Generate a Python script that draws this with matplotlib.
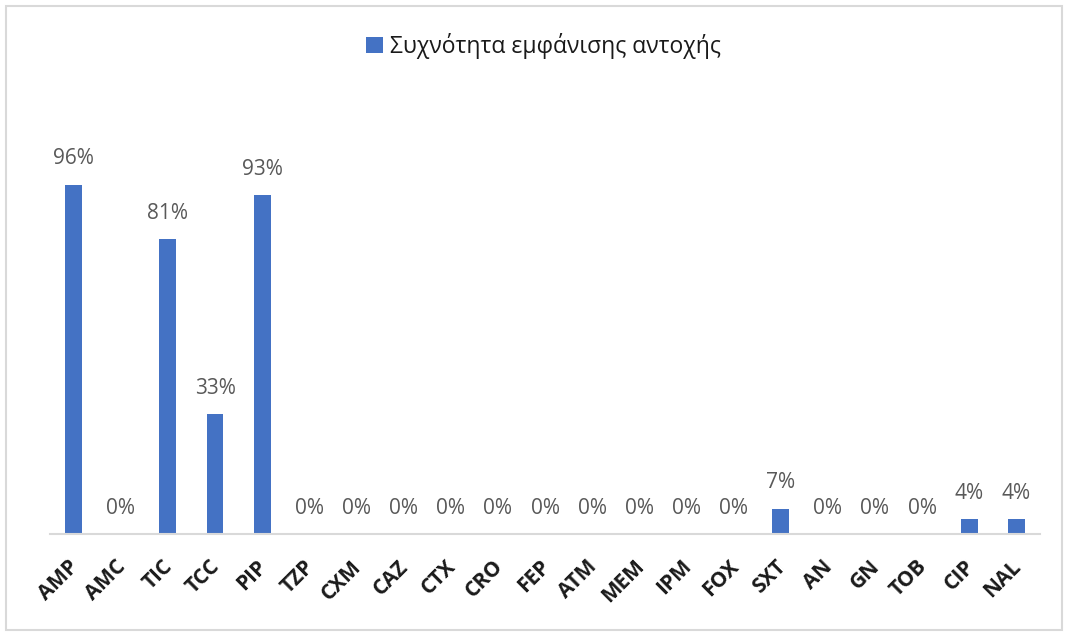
import matplotlib.pyplot as plt
from matplotlib.patches import Rectangle
import numpy as np

# Antibiotics and resistance frequency (%)
antibiotics = ['AMP', 'AMC', 'TIC', 'TCC', 'PIP', 'TZP', 'CXM', 'CAZ', 'CTX', 'CRO', 'FEP',
               'ATM', 'MEM', 'IPM', 'FOX', 'SXT', 'AN', 'GN', 'TOB', 'CIP', 'NAL']
resistance = [96, 0, 81, 33, 93, 0, 0, 0, 0, 0, 0, 0, 0, 0, 0, 7, 0, 0, 0, 4, 4]
legend_label = 'Συχνότητα εμφάνισης αντοχής'

plt.rcParams['font.family'] = ['Open Sans', 'DejaVu Sans']

fig = plt.figure(figsize=(10.65, 6.33), dpi=100)
# light outer frame of the chart area
fig.patches.append(Rectangle((6 / 1065, 3 / 633), 1056 / 1065, 624 / 633,
                             transform=fig.transFigure, fill=False,
                             edgecolor='#d9d9d9', linewidth=1.5))

ax = fig.add_axes([50 / 1065, 99 / 633, 990 / 1065, 364 / 633])
ind = np.arange(len(antibiotics))
ax.bar(ind, resistance, 0.36, color='#4472c4', label=legend_label)

# data labels
for x, v in zip(ind, resistance):
    ax.text(x, v + 4.2, f'{v}%', ha='center', va='bottom',
            fontsize=15, color='#595959')

ax.set_xlim(-0.5, len(antibiotics) - 0.5)
ax.set_ylim(0, 100)
ax.set_yticks([])
for s in ['top', 'right', 'left']:
    ax.spines[s].set_visible(False)
ax.spines['bottom'].set_color('#d9d9d9')
ax.spines['bottom'].set_linewidth(1.5)

ax.set_xticks(ind)
ax.set_xticklabels(antibiotics, rotation=45, ha='right', va='center_baseline',
                   rotation_mode='anchor', fontsize=15, fontweight='bold', color='#1a1a1a')
ax.tick_params(axis='x', length=0, pad=20)

fig.legend(loc='center', bbox_to_anchor=(543 / 1065, 1 - 46 / 633), frameon=False,
           fontsize=16.5, handlelength=0.75, handleheight=0.75, handletextpad=0.3,
           labelcolor='#1a1a1a')

plt.savefig('out.png', dpi=100)
